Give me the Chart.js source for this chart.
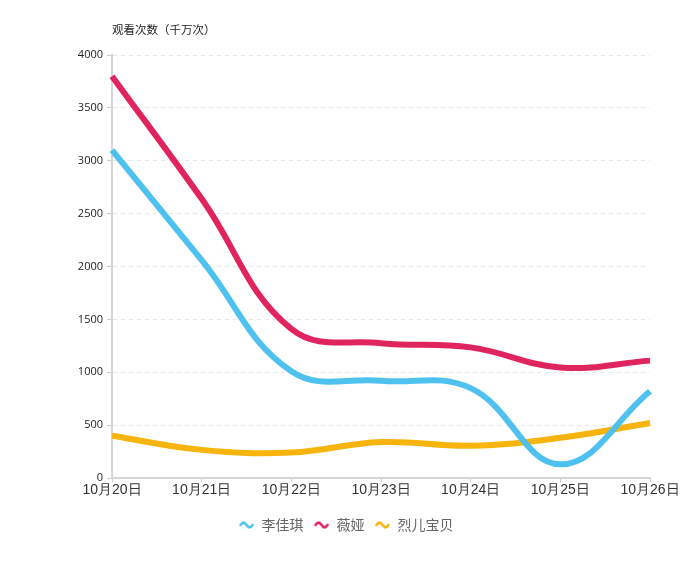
<!DOCTYPE html>
<html>
<head>
<meta charset="utf-8">
<script src="https://cdn.jsdelivr.net/npm/chart.js@4/dist/chart.umd.min.js"></script>
<style>
  html, body { margin: 0; padding: 0; background: #fff; }
  #wrap { width: 700px; height: 576px; }
</style>
</head>
<body>
<div id="wrap"><canvas id="myChart"></canvas></div>
<script>
let days = ['10月20日', '10月21日', '10月22日', '10月23日', '10月24日', '10月25日', '10月26日']
let lijiaqi = [3100, 2060, 1010, 920, 850, 130, 820]
let weiya = [3800, 2640, 1410, 1275, 1235, 1045, 1110]
let lieer = [400, 266, 240, 340, 305, 380, 520]
let yTicks = [0, 500, 1000, 1500, 2000, 2500, 3000, 3500, 4000]

// little wave icon for the legend
function wave(color)
{
    const c = document.createElement('canvas');
    c.width = 16;
    c.height = 10;
    const g = c.getContext('2d');
    g.strokeStyle = color;
    g.lineWidth = 2.6;
    g.lineCap = 'round';
    g.beginPath();
    for (let i = 0; i <= 12; i++) {
        let x = 2 + i;
        let y = 5 - Math.sin(i / 12 * Math.PI * 2) * 2.4;
        if (i === 0) g.moveTo(x, y); else g.lineTo(x, y);
    }
    g.stroke();
    return c;
}

const axisTitle = {
    id: 'axis_title',
    afterDraw: (chart) => {
        const ctx = chart.ctx;
        ctx.save();
        ctx.fillStyle = '#222';
        ctx.font = '11.5px "Noto Sans CJK SC", "Open Sans", sans-serif';
        ctx.textBaseline = 'middle';
        ctx.textAlign = 'left';
        ctx.fillText('观看次数（千万次）', chart.chartArea.left, 30);
        ctx.restore();
    }
};

// legend sits a bit right of the canvas centre in the original
const legendShift = {
    id: 'legend_shift',
    afterLayout: (chart) => {
        chart.legend.left += 21;
        chart.legend.right += 21;
    }
};

const bg = {
    id: 'bg',
    beforeDraw: (chart) => {
        const ctx = chart.ctx;
        ctx.save();
        ctx.fillStyle = '#fff';
        ctx.fillRect(0, 0, chart.width, chart.height);
        ctx.restore();
    }
};

const ctx = document.getElementById('myChart');

const myChart = new Chart(ctx, {
    type: 'line',
    data: {
        labels: days,
        datasets: [{
            label: '李佳琪',
            data: lijiaqi,
            borderColor: '#4ec1ef',
            backgroundColor: '#4ec1ef',
            pointStyle: wave('#4ec1ef')
        },
        {
            label: '薇娅',
            data: weiya,
            borderColor: '#e0255e',
            backgroundColor: '#e0255e',
            pointStyle: wave('#e0255e')
        },
        {
            label: '烈儿宝贝',
            data: lieer,
            borderColor: '#f6b40c',
            backgroundColor: '#f6b40c',
            pointStyle: wave('#f6b40c')
        }]
    },
    options: {
        responsive: true,
        maintainAspectRatio: false,
        animation: false,
        datasets: {
            line: {
                borderWidth: 6,
                tension: 0.4,
                pointRadius: 0,
                pointHoverRadius: 0,
                fill: false
            }
        },
        layout: {
            padding: { left: 0, right: 50, top: 55, bottom: 34 }
        },
        scales: {
            x: {
                grid: {
                    display: true,
                    drawOnChartArea: false,
                    tickLength: 4,
                    color: '#ccc'
                },
                border: { display: true, color: '#d5d5d5', width: 2 },
                ticks: {
                    color: '#333',
                    font: { family: '"Liberation Sans", Arial, sans-serif', size: 14 },
                    maxRotation: 0,
                    autoSkip: false,
                    padding: 0
                },
                afterFit: function(scale) { scale.height = 30; }
            },
            y: {
                min: 0,
                max: 4000,
                afterBuildTicks: function(scale) {
                    scale.ticks = yTicks.map(v => ({ value: v }));
                },
                grid: {
                    color: '#e6e6e6',
                    tickBorderDash: [],
                    tickColor: '#ccc',
                    tickLength: 5
                },
                border: { display: true, color: '#d5d5d5', width: 2, dash: [4, 4] },
                ticks: {
                    color: '#222',
                    font: { family: '"Open Sans", sans-serif', size: 11 },
                    padding: 4,
                    callback: function(v) { return String(v); }
                },
                afterFit: function(scale) { scale.width = 112; }
            }
        },
        plugins: {
            legend: {
                position: 'bottom',
                labels: {
                    usePointStyle: true,
                    pointStyleWidth: 16,
                    color: '#666',
                    font: { family: '"Noto Sans CJK SC", sans-serif', size: 14 },
                    padding: 10
                }
            },
            tooltip: { enabled: false }
        }
    },
    plugins: [bg, axisTitle, legendShift]
});
</script>
</body>
</html>
